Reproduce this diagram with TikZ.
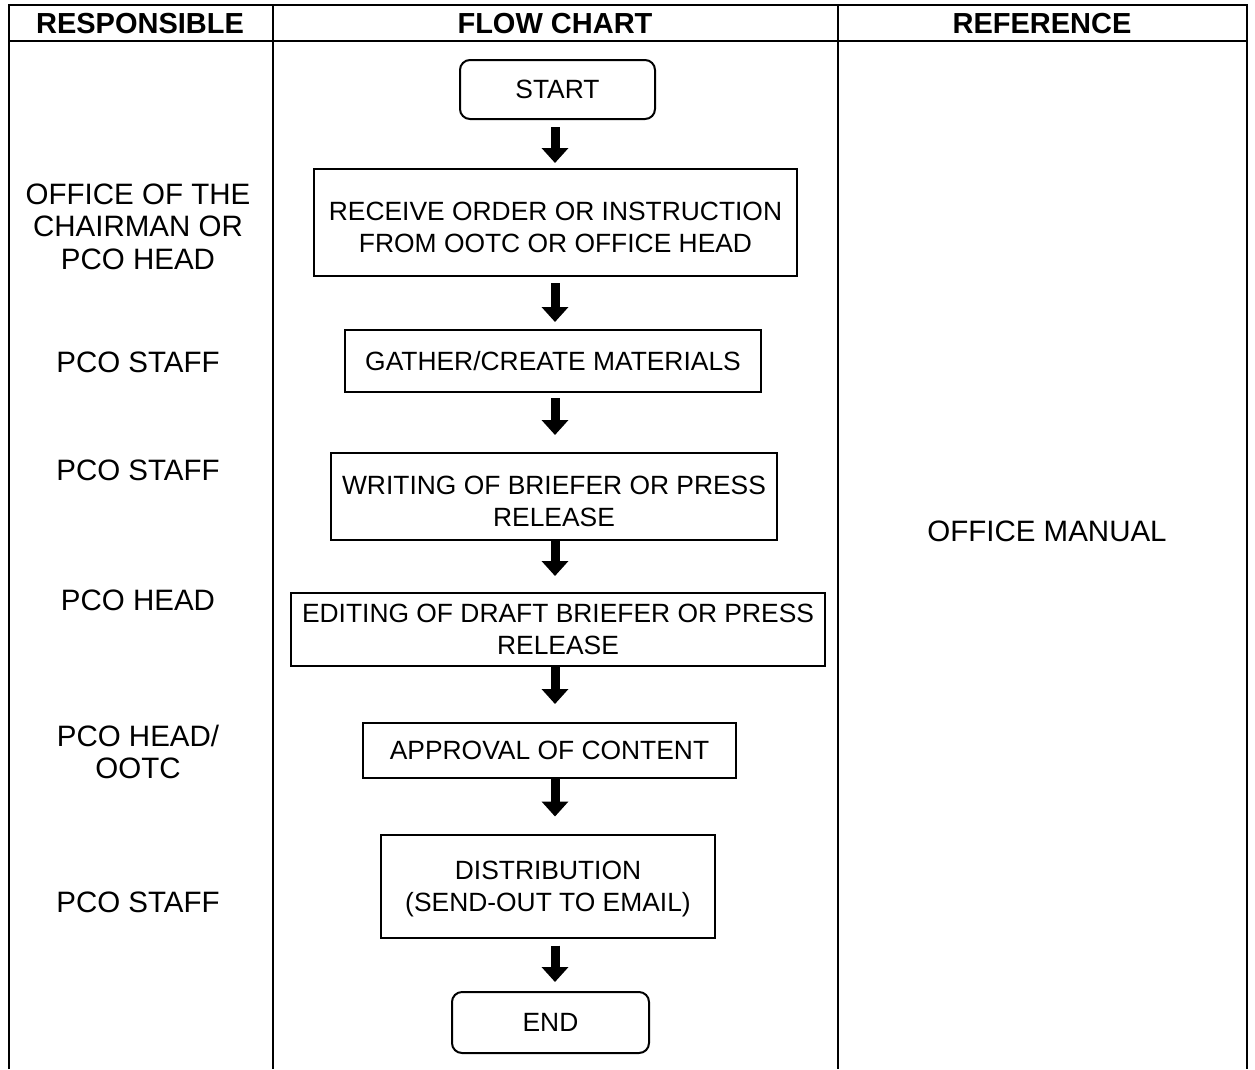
\documentclass[tikz,border=0pt]{standalone}
\usepackage{fontspec}
\setmainfont{Liberation Sans}
\usetikzlibrary{arrows.meta}

\begin{document}
\begin{tikzpicture}[x=1pt,y=-1pt,
  rule/.style={line width=2pt},
  boxtext/.style={align=center, inner sep=0pt, text depth=0pt,
    font=\fontsize{26.4}{32}\selectfont},
  stepbox/.style={draw, line width=2pt, boxtext},
  termbox/.style={stepbox, rounded corners=10pt},
  role/.style={align=center, inner sep=0pt, text depth=0pt,
    font=\fontsize{29.5}{32.5}\selectfont},
  head/.style={inner sep=0pt, font=\bfseries\fontsize{29}{32}\selectfont},
  flowarrow/.style={line width=9pt, -{Triangle[width=26pt,length=15pt]}}
]
\useasboundingbox (0,0) rectangle (1255,1069);

% table frame, open at the bottom
\draw[rule] (9,1069) -- (9,5) -- (1247,5) -- (1247,1069);
\draw[rule] (9,40.5) -- (1247,40.5);
\draw[rule] (272.5,5) -- (272.5,1069);
\draw[rule] (838,5) -- (838,1069);

% column headings
\node[head] (hresp) at (140,23.5) {RESPONSIBLE};
\node[head] (hflow) at (555,23.5) {FLOW CHART};
\node[head] (hrefr) at (1042,23.5) {REFERENCE};

% flow chart steps
\node[termbox, minimum width=195pt, minimum height=59pt] (start) at (557.5,89.5) {START};
\node[stepbox, minimum width=483pt, minimum height=107pt,
  label={[boxtext, yshift=-5pt]center:RECEIVE ORDER OR INSTRUCTION\\FROM OOTC OR OFFICE HEAD}]
  (receive) at (555.5,222.5) {};
\node[stepbox, minimum width=416pt, minimum height=62pt] (gather) at (553,361)
  {GATHER/CREATE MATERIALS};
\node[stepbox, minimum width=446pt, minimum height=87pt,
  label={[boxtext, yshift=-5pt]center:WRITING OF BRIEFER OR PRESS\\RELEASE}]
  (write) at (554,496.5) {};
\node[stepbox, minimum width=534pt, minimum height=73pt] (edit) at (558,629.5)
  {EDITING OF DRAFT BRIEFER OR PRESS\\RELEASE};
\node[stepbox, minimum width=373pt, minimum height=55pt] (approve) at (549.5,750.5)
  {APPROVAL OF CONTENT};
\node[stepbox, minimum width=334pt, minimum height=103pt] (distrib) at (548,886)
  {DISTRIBUTION\\(SEND-OUT TO EMAIL)};
\node[termbox, minimum width=197pt, minimum height=61pt] (finish) at (550.5,1022.5) {END};

% arrows between steps
\coordinate (axis) at (555,0);
\draw[flowarrow, shorten <=7pt, shorten >=5pt] (start.south -| axis) -- (receive.north -| axis);
\draw[flowarrow, shorten <=6pt, shorten >=7pt] (receive.south -| axis) -- (gather.north -| axis);
\draw[flowarrow, shorten <=5pt, shorten >=17pt] (gather.south -| axis) -- (write.north -| axis);
\draw[flowarrow, shorten >=16pt] (write.south -| axis) -- (edit.north -| axis);
\draw[flowarrow, shorten >=18pt] (edit.south -| axis) -- (approve.north -| axis);
\draw[flowarrow, shorten >=17pt] (approve.south -| axis) -- (distrib.north -| axis);
\draw[flowarrow, shorten <=7pt, shorten >=9pt] (distrib.south -| axis) -- (finish.north -| axis);

% responsible parties
\node[role] (r1) at (138,226.5) {OFFICE OF THE\\CHAIRMAN OR\\PCO HEAD};
\node[role] (r2) at (138,362) {PCO STAFF};
\node[role] (r3) at (138,470) {PCO STAFF};
\node[role] (r4) at (138,600) {PCO HEAD};
\node[role] (r5) at (138,752) {PCO HEAD/\\OOTC};
\node[role] (r6) at (138,902) {PCO STAFF};

% reference document
\node[role] (manual) at (1047,531) {OFFICE MANUAL};
\end{tikzpicture}
\end{document}
